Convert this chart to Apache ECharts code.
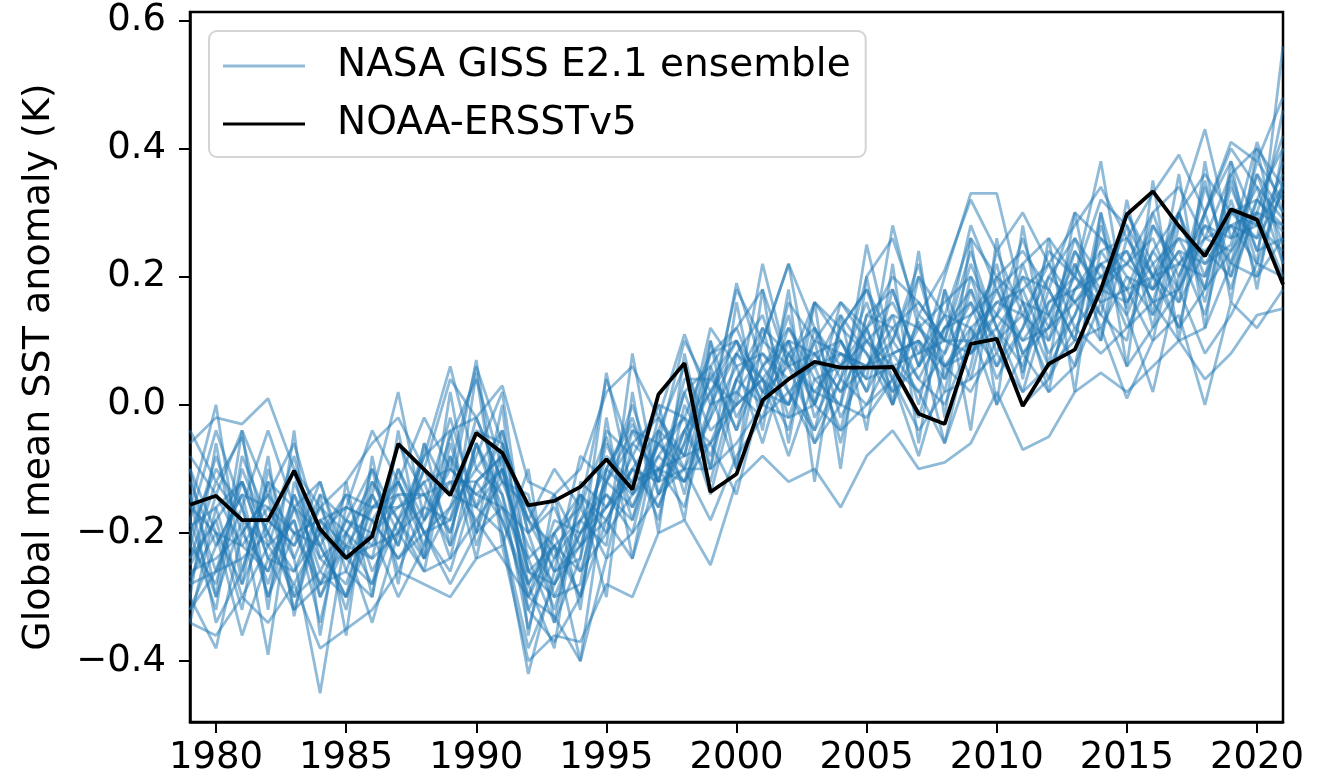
<!DOCTYPE html>
<html>
<head>
<meta charset="utf-8">
<script src="https://cdn.jsdelivr.net/npm/echarts@6/dist/echarts.min.js"></script>
<style>
  html, body { margin: 0; padding: 0; background: #fff; }
  #chart { width: 1334px; height: 780px; }
</style>
</head>
<body>
<div id="chart"></div>
<script>
// Years on the x axis
const years = [];
for (let y = 1979; y <= 2021; y++) years.push(y);

// Tick values
const xTicks = [1980, 1985, 1990, 1995, 2000, 2005, 2010, 2015, 2020];
const yTicks = [-0.4, -0.2, 0.0, 0.2, 0.4, 0.6];

// Observed global mean SST anomaly (K), NOAA ERSSTv5, 1979-2021
const noaa = [
  -0.156, -0.142, -0.180, -0.180, -0.103, -0.194, -0.239, -0.205, -0.061, -0.101,
  -0.141, -0.044, -0.075, -0.157, -0.150, -0.128, -0.085, -0.132, 0.016, 0.065,
  -0.136, -0.108, 0.007, 0.040, 0.067, 0.058, 0.058, 0.059, -0.014, -0.030,
  0.095, 0.103, -0.002, 0.064, 0.086, 0.180, 0.297, 0.333, 0.279, 0.232,
  0.305, 0.289, 0.188
];

// NASA GISS E2.1 ensemble members, 1979-2021
const m01 = [-0.04,-0.12,-0.05,-0.22,-0.10,-0.30,-0.20,-0.14,0.02,-0.18, -0.05,0.04,-0.10,-0.30,-0.22,-0.30,-0.10,-0.03,-0.12,0.02, -0.10,0.08,0.02,0.14,-0.02,0.06,0.16,0.04,0.13,0.02, 0.20,0.08,0.22,0.10,0.24,0.17,0.28,0.12,0.30,0.20, 0.35,0.22,0.56];
const m02 = [-0.30,-0.38,-0.20,-0.26,-0.14,-0.22,-0.30,-0.12,-0.20,-0.10, -0.20,-0.06,-0.14,-0.35,-0.20,-0.16,-0.05,-0.18,-0.02,-0.10, 0.05,-0.04,0.12,-0.02,0.10,-0.06,0.12,0.02,0.20,0.06, 0.10,0.22,0.05,0.18,0.10,0.28,0.15,0.30,0.18,0.35, 0.20,0.36,0.25];
const m03 = [-0.16,0.00,-0.26,-0.12,-0.30,-0.18,-0.24,-0.28,-0.12,-0.22, -0.08,-0.16,-0.04,-0.20,-0.32,-0.18,-0.22,0.08,-0.14,-0.04, 0.02,-0.10,0.10,0.22,0.00,0.10,0.02,0.18,0.06,0.14, 0.04,0.20,0.16,0.02,0.22,0.14,0.30,0.20,0.12,0.30, 0.38,0.28,0.34];
const m04 = [-0.25,-0.18,-0.32,-0.10,-0.24,-0.45,-0.20,-0.24,-0.06,-0.14, -0.22,-0.12,-0.18,-0.28,-0.38,-0.12,-0.16,-0.08,-0.18,0.00, -0.08,0.04,0.00,0.08,0.12,-0.02,0.06,0.14,0.00,0.18, 0.08,0.14,0.26,0.14,0.06,0.24,0.18,0.10,0.28,0.22, 0.25,0.41,0.30];
const m05 = [-0.12,-0.22,-0.14,-0.30,-0.16,-0.20,-0.32,-0.14,-0.22,-0.06, -0.14,0.07,-0.20,-0.42,-0.26,-0.22,-0.08,-0.12,0.00,-0.14, 0.06,0.12,0.02,0.00,0.16,0.10,0.02,0.10,0.22,0.04, 0.18,0.06,0.12,0.20,0.16,0.10,0.26,0.18,0.24,0.14, 0.30,0.26,0.46];
const m06 = [-0.22,-0.28,-0.10,-0.20,-0.26,-0.16,-0.24,-0.20,-0.14,-0.24, -0.04,-0.22,-0.10,-0.18,-0.22,-0.40,-0.12,-0.06,-0.10,-0.16, 0.00,0.08,0.14,0.02,-0.04,0.12,0.08,0.00,0.14,0.10, 0.24,0.12,0.02,0.16,0.20,0.14,0.10,0.28,0.20,0.30, 0.18,0.32,0.27];
const m07 = [-0.28,-0.14,-0.22,-0.16,-0.20,-0.28,-0.18,-0.10,-0.26,-0.16, -0.18,-0.08,0.02,-0.26,-0.30,-0.20,-0.14,-0.20,-0.04,0.06, -0.04,0.00,0.04,0.10,0.00,0.16,0.10,0.06,-0.02,0.12, 0.14,0.20,0.08,0.12,0.26,0.20,0.14,0.24,0.30,0.16, 0.32,0.20,0.35];
const m08 = [-0.18,-0.30,-0.18,-0.39,-0.12,-0.22,-0.14,-0.26,-0.18,-0.12, -0.10,-0.14,-0.16,-0.20,-0.16,-0.26,-0.20,-0.04,-0.06,-0.02, -0.14,0.02,0.08,0.04,0.06,-0.04,0.14,0.12,0.04,0.00, 0.10,0.16,0.18,0.08,0.14,0.22,0.24,0.16,0.18,0.26, 0.24,0.30,0.20];
const m09 = [-0.10,-0.20,-0.28,-0.18,-0.22,-0.12,-0.26,-0.30,-0.10,-0.20, -0.16,-0.04,-0.06,-0.24,-0.34,-0.24,0.05,-0.14,-0.10,-0.08, 0.10,-0.02,0.06,0.12,0.04,0.00,0.25,0.08,0.10,-0.06, 0.06,0.24,0.14,0.22,0.12,0.18,0.22,0.26,0.16,0.34, 0.22,0.38,0.32];
const m10 = [-0.34,-0.16,-0.12,-0.24,-0.18,-0.30,-0.22,-0.16,-0.12,-0.20, -0.26,-0.12,-0.08,-0.16,-0.24,-0.14,-0.18,-0.10,-0.16,-0.06, 0.12,0.06,-0.06,0.08,0.02,0.08,0.04,0.28,0.12,0.08, 0.16,0.10,0.20,0.18,0.10,0.30,0.16,0.22,0.26,0.18, 0.34,0.24,0.38];
const m11 = [-0.20,-0.10,-0.16,-0.28,-0.14,-0.26,-0.18,-0.22,-0.20,-0.08, 0.06,-0.10,-0.14,-0.28,-0.20,-0.30,-0.10,-0.14,-0.08,-0.12, -0.02,0.19,0.06,0.10,-0.06,0.04,0.12,0.16,0.08,0.14, 0.12,0.06,0.16,0.14,0.22,0.12,0.20,0.14,0.22,0.28, 0.26,0.34,0.29];
const m12 = [-0.26,-0.24,-0.20,-0.14,-0.32,-0.18,-0.16,-0.18,-0.24,-0.18, -0.12,-0.18,-0.12,-0.22,-0.28,-0.16,-0.24,-0.06,-0.02,-0.08, -0.06,0.04,0.10,0.06,0.08,0.02,0.06,0.12,0.16,0.10, 0.08,0.18,0.10,0.16,0.18,0.22,0.12,0.20,0.26,0.24, 0.28,0.26,0.33];
const m13 = [-0.14,-0.26,-0.24,-0.20,-0.08,-0.24,-0.28,-0.16,-0.16,-0.14, -0.20,-0.06,-0.18,-0.30,-0.18,-0.20,-0.16,-0.12,-0.10,-0.04, 0.04,0.00,0.04,-0.04,0.12,0.06,0.10,0.04,0.12,0.16, 0.20,0.14,0.10,0.12,0.20,0.16,0.18,0.28,0.22,0.20, 0.30,0.28,0.24];
const m14 = [-0.24,-0.12,-0.18,-0.22,-0.28,-0.20,-0.24,-0.22,-0.10,-0.18, -0.10,-0.14,-0.10,-0.26,-0.22,-0.26,-0.12,-0.16,-0.06,-0.10, -0.02,0.06,0.08,0.02,0.06,0.08,0.06,0.08,0.10,0.06, 0.12,0.16,0.14,0.10,0.18,0.20,0.22,0.18,0.24,0.22, 0.28,0.30,0.28];
const m15 = [-0.20,-0.32,-0.08,-0.18,-0.22,-0.16,-0.20,-0.28,-0.18,-0.26, -0.06,-0.20,-0.16,-0.32,-0.24,-0.18,-0.10,-0.02,-0.14,-0.06, 0.02,0.10,0.00,0.12,0.06,0.14,0.08,0.02,0.06,0.20, 0.33,0.33,0.16,0.06,0.14,0.26,0.20,0.18,0.30,0.43, 0.26,0.28,0.36];
const m16 = [-0.16,-0.20,-0.22,-0.26,-0.16,-0.28,-0.26,-0.14,-0.22,-0.10, -0.14,-0.16,-0.20,-0.38,-0.28,-0.22,-0.16,-0.10,-0.12,-0.10, -0.10,-0.06,0.00,-0.02,0.00,-0.04,0.00,0.04,-0.04,0.02, 0.04,0.08,0.02,0.06,0.10,0.12,0.01,0.10,0.14,0.00, 0.16,0.12,0.18];
const m17 = [-0.32,-0.22,-0.14,-0.16,-0.24,-0.14,-0.18,-0.20,-0.30,-0.22, -0.08,-0.24,-0.06,-0.18,-0.26,-0.24,-0.06,-0.16,-0.08,-0.02, -0.06,0.00,0.22,0.06,0.02,0.00,0.14,0.18,0.06,0.12, 0.16,0.04,0.12,0.24,0.20,0.38,0.14,0.02,0.20,0.30, 0.40,0.34,0.22];
const m18 = [-0.19,-0.16,-0.30,-0.22,-0.18,-0.34,-0.16,-0.18,-0.12,-0.20, -0.18,-0.02,-0.12,-0.14,-0.30,-0.28,-0.04,-0.08,-0.16,-0.04, -0.12,0.04,0.12,0.08,0.00,0.12,0.18,0.06,0.02,0.08, 0.22,0.12,0.06,0.20,0.26,0.16,0.30,0.22,0.12,0.18, 0.36,0.24,0.26];
const m19 = [-0.22,-0.08,-0.20,-0.14,-0.20,-0.22,-0.30,-0.20,-0.16,-0.12, -0.24,-0.06,-0.16,-0.24,-0.20,-0.14,-0.20,-0.14,-0.06,-0.12, 0.00,0.02,-0.02,0.10,0.08,0.02,0.10,0.14,0.12,0.06, 0.08,0.12,0.18,0.22,0.16,0.20,0.24,0.16,0.30,0.18, 0.24,0.36,0.30];
const m20 = [-0.28,-0.26,-0.16,-0.30,-0.20,-0.18,-0.22,-0.24,-0.20,-0.16, -0.02,-0.16,-0.10,-0.26,-0.28,-0.20,-0.12,-0.04,-0.12,0.02, 0.06,-0.04,0.06,0.00,0.10,0.08,0.06,0.10,0.04,0.12, 0.18,0.10,0.14,0.04,0.18,0.24,0.26,0.20,0.16,0.24, 0.20,0.30,0.42];
const m21 = [-0.14,-0.34,-0.26,-0.12,-0.16,-0.24,-0.20,-0.12,-0.18,-0.24, -0.16,-0.10,-0.04,-0.20,-0.14,-0.22,-0.18,-0.10,-0.04,-0.08, 0.08,0.10,0.04,-0.08,0.04,0.06,0.12,0.00,0.10,0.04, 0.14,0.18,0.08,0.14,0.24,0.18,0.16,0.24,0.18,0.28, 0.22,0.32,0.28];
const m22 = [-0.24,-0.18,-0.12,-0.24,-0.26,-0.20,-0.14,-0.16,-0.14,-0.14, -0.12,-0.12,-0.08,-0.28,-0.22,-0.18,-0.14,-0.18,-0.06,0.10, 0.02,0.08,0.04,0.00,0.08,0.10,0.04,0.06,0.08,0.10, 0.10,0.14,0.20,0.12,0.16,0.22,0.18,0.20,0.22,0.26, 0.28,0.22,0.34];
const m23 = [-0.06,-0.02,-0.03,0.01,-0.10,-0.16,-0.12,-0.06,-0.02,-0.10, 0.04,-0.02,0.03,-0.12,-0.14,-0.10,0.02,0.06,-0.02,0.11, 0.00,0.18,0.10,0.22,0.12,0.04,0.20,0.26,0.14,0.21, 0.32,0.24,0.30,0.22,0.28,0.34,0.26,0.33,0.39,0.30, 0.41,0.38,0.48];
const m24 = [-0.34,-0.36,-0.30,-0.34,-0.28,-0.38,-0.35,-0.32,-0.26,-0.28, -0.30,-0.24,-0.22,-0.40,-0.36,-0.37,-0.28,-0.30,-0.20,-0.18, -0.25,-0.12,-0.08,-0.12,-0.10,-0.16,-0.08,-0.04,-0.10,-0.09, -0.06,0.02,-0.07,-0.05,0.02,0.05,0.02,0.06,0.10,0.04, 0.08,0.14,0.15];
const m25 = [-0.10,-0.30,-0.04,-0.32,-0.04,-0.36,-0.12,-0.30,-0.04,-0.24, 0.02,-0.20,0.00,-0.36,-0.14,-0.32,-0.02,-0.24,-0.04,-0.18, 0.10,-0.10,0.18,-0.06,0.16,-0.10,0.20,0.00,0.24,-0.02, 0.26,0.00,0.28,0.06,0.30,0.10,0.32,0.14,0.36,0.12, 0.38,0.18,0.40];
const m26 = [-0.30,-0.06,-0.28,-0.08,-0.33,-0.14,-0.36,-0.08,-0.28,-0.06, -0.22,0.05,-0.22,-0.10,-0.34,-0.14,-0.30,0.02,-0.20,0.08, -0.10,0.16,-0.04,0.18,-0.12,0.14,-0.04,0.22,-0.06,0.18, -0.04,0.26,0.04,0.26,0.02,0.30,0.06,0.35,0.10,0.38, 0.16,0.40,0.22];
const m27 = [-0.27,-0.20,-0.36,-0.24,-0.32,-0.28,-0.22,-0.34,-0.20,-0.26, -0.24,-0.18,-0.24,-0.30,-0.33,-0.40,-0.24,-0.20,-0.14,-0.10, -0.18,-0.08,-0.02,0.02,-0.06,0.00,-0.02,0.04,-0.08,0.06, 0.02,0.10,0.00,0.04,0.12,0.08,0.12,0.16,0.10,0.12, 0.22,0.20,0.26];
const m28 = [-0.08,-0.14,-0.04,-0.14,-0.06,-0.20,-0.16,-0.04,-0.12,-0.02, -0.10,0.06,-0.06,-0.18,-0.10,-0.16,0.04,-0.08,0.00,-0.02, 0.08,0.12,0.18,0.06,0.16,0.12,0.18,0.10,0.20,0.14, 0.26,0.20,0.24,0.18,0.30,0.26,0.22,0.30,0.34,0.26, 0.36,0.40,0.34];
const m29 = [-0.32,-0.26,-0.12,-0.20,-0.30,-0.26,-0.30,-0.18,-0.24,-0.20, -0.28,-0.20,-0.08,-0.32,-0.37,-0.30,-0.18,-0.24,-0.10,-0.12, -0.06,-0.14,0.02,0.06,-0.04,0.04,0.00,0.08,0.02,-0.06, 0.12,0.00,0.08,0.02,0.06,0.16,0.06,0.12,0.18,0.08, 0.14,0.22,0.20];
const m30 = [-0.18,-0.04,-0.16,-0.04,-0.16,-0.12,-0.24,-0.10,-0.18,-0.08, -0.04,-0.02,-0.12,-0.16,-0.26,-0.08,-0.12,0.00,-0.12,0.04, 0.04,0.10,0.00,0.16,0.10,0.16,0.12,0.20,0.16,0.10, 0.28,0.18,0.22,0.26,0.20,0.32,0.28,0.20,0.30,0.36, 0.30,0.32,0.40];

const members = [m01, m02, m03, m04, m05, m06, m07, m08, m09, m10,
                 m11, m12, m13, m14, m15, m16, m17, m18, m19, m20,
                 m21, m22, m23, m24, m25, m26, m27, m28, m29, m30];

const ENS_NAME = 'NASA GISS E2.1 ensemble';
const OBS_NAME = 'NOAA-ERSSTv5';
const FONT = 'DejaVu Sans';

const pairs = vals => years.map((y, i) => [y, vals[i]]);

const series = members.map(vals => ({
  name: ENS_NAME,
  type: 'line',
  data: pairs(vals),
  symbol: 'none',
  silent: true,
  z: 2,
  lineStyle: { color: '#1f77b4', width: 2.8, opacity: 0.5 },
  itemStyle: { color: '#1f77b4' }
}));
series.push({
  name: OBS_NAME,
  type: 'line',
  data: pairs(noaa),
  symbol: 'none',
  silent: true,
  z: 3,
  lineStyle: { color: '#000000', width: 3.8 },
  itemStyle: { color: '#000000' }
});

const chart = echarts.init(document.getElementById('chart'), null, { renderer: 'canvas' });
chart.setOption({
  animation: false,
  backgroundColor: '#ffffff',
  textStyle: { fontFamily: FONT },
  grid: {
    left: 190, right: 51, top: 12, bottom: 58,
    show: true, borderColor: '#000', borderWidth: 2.5, backgroundColor: 'transparent'
  },
  legend: {
    orient: 'vertical',
    left: 209, top: 31,
    padding: [14, 15, 12, 14],
    itemGap: 16,
    itemWidth: 82, itemHeight: 3,
    backgroundColor: '#ffffff',
    borderColor: '#d4d4d4', borderWidth: 2, borderRadius: 8,
    selectedMode: false,
    textStyle: { fontFamily: FONT, fontSize: 39, color: '#000', lineHeight: 42, padding: [0, 0, 0, 27] },
    data: [
      { name: ENS_NAME, icon: 'rect', itemStyle: { color: '#8fbbd9', borderWidth: 0 } },
      { name: OBS_NAME, icon: 'rect', itemStyle: { color: '#000000', borderWidth: 0 } }
    ]
  },
  xAxis: {
    type: 'value',
    min: 1979, max: 2021,
    splitLine: { show: false },
    axisLine: { show: true, onZero: false, lineStyle: { color: '#000', width: 2.5 } },
    axisTick: { show: true, inside: false, length: 11, customValues: xTicks, lineStyle: { color: '#000', width: 2 } },
    axisLabel: {
      customValues: xTicks,
      margin: 18,
      fontFamily: FONT, fontSize: 37, color: '#000',
      formatter: v => String(v)
    }
  },
  yAxis: {
    type: 'value',
    min: -0.495, max: 0.613,
    name: 'Global mean SST anomaly (K)',
    nameLocation: 'middle',
    nameRotate: 90,
    nameGap: 132,
    nameTextStyle: { fontFamily: FONT, fontSize: 38, color: '#000' },
    splitLine: { show: false },
    axisLine: { show: true, lineStyle: { color: '#000', width: 2.5 } },
    axisTick: { show: true, inside: false, length: 11, customValues: yTicks, lineStyle: { color: '#000', width: 2 } },
    axisLabel: {
      customValues: yTicks,
      margin: 24,
      fontFamily: FONT, fontSize: 37, color: '#000',
      formatter: v => (v < 0 ? '\u2212' : '') + Math.abs(v).toFixed(1)
    }
  },
  series: series
});
</script>
</body>
</html>
